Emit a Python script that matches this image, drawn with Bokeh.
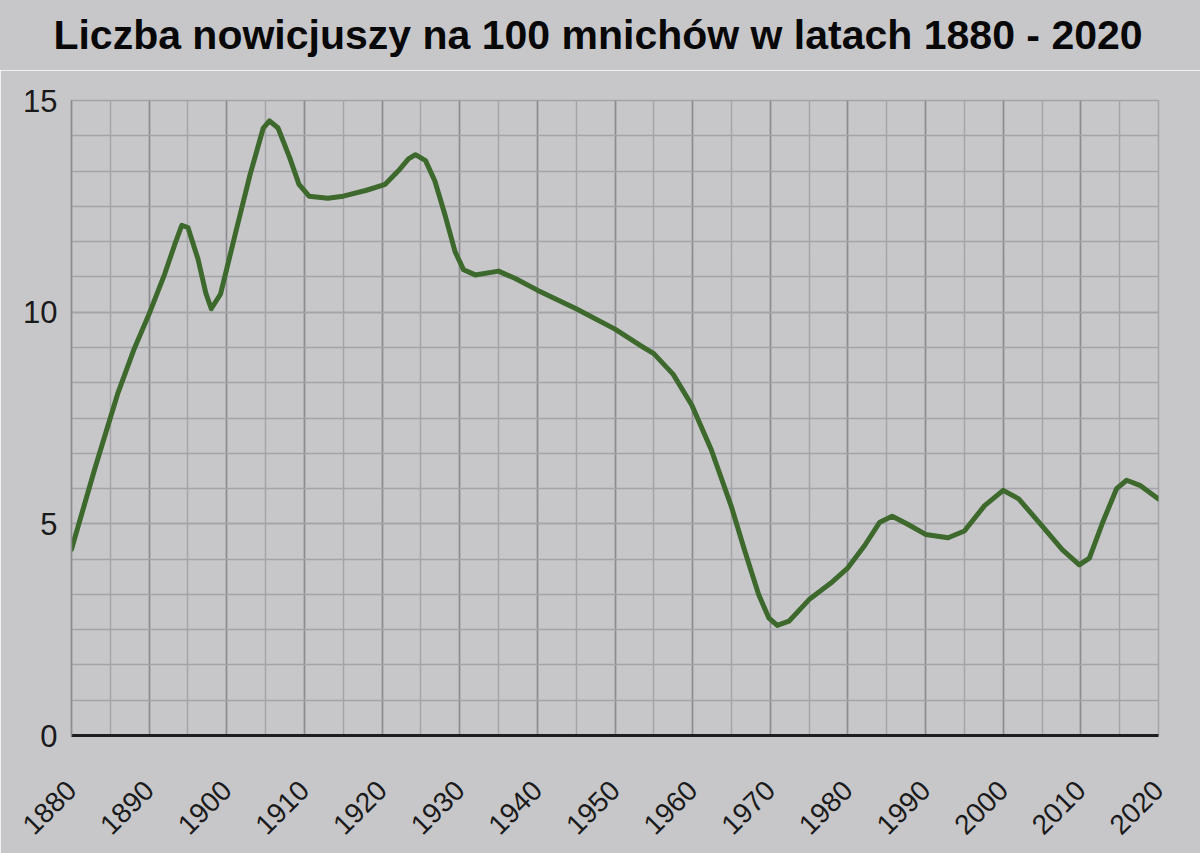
from math import pi

from bokeh.embed import file_html
from bokeh.layouts import column
from bokeh.models import ColumnDataSource, Div, SingleIntervalTicker
from bokeh.plotting import figure
from bokeh.resources import INLINE

# values
years = [1880, 1883, 1886, 1888, 1890, 1892, 1893.3, 1894.2, 1895.0, 1896.3, 1897.3, 1898,
         1899.2, 1901.3, 1903, 1904.7, 1905.5, 1906.6, 1908.1, 1909.3, 1910.6, 1913,
         1915, 1918, 1920.4, 1922.1, 1923.4, 1924.3, 1925.6, 1926.8, 1928.1, 1929.4, 1930.5,
         1932, 1935, 1937.1, 1940, 1945, 1950, 1953.4, 1955, 1957.5, 1959.9,
         1962.4, 1965, 1966.7, 1968.5, 1969.8, 1970.9, 1972.4, 1975, 1977.8, 1980,
         1982.2, 1984.1, 1985.7, 1987.7, 1990, 1992.9, 1995, 1997.6, 2000, 2002,
         2005, 2007.6, 2009.8, 2011.1, 2012.8, 2014.6, 2015.9, 2017.6, 2020]
novices = [4.4, 6.3, 8.1, 9.1, 9.96, 10.9, 11.6, 12.05, 12.0, 11.25, 10.45, 10.08,
           10.43, 12.0, 13.25, 14.35, 14.52, 14.35, 13.65, 13.02, 12.74, 12.69,
           12.74, 12.88, 13.02, 13.34, 13.62, 13.72, 13.58, 13.1, 12.3, 11.43, 11.0,
           10.88, 10.97, 10.8, 10.52, 10.08, 9.6, 9.2, 9.02, 8.53, 7.8,
           6.75, 5.4, 4.37, 3.33, 2.78, 2.6, 2.7, 3.21, 3.6, 3.96,
           4.5, 5.04, 5.18, 4.99, 4.75, 4.67, 4.83, 5.43, 5.79, 5.59,
           4.95, 4.39, 4.03, 4.19, 5.03, 5.83, 6.03, 5.91, 5.59]

title_text = "Liczba nowicjuszy na 100 mnichów w latach 1880 - 2020"

bg = "#c7c7ca"
grid_dark = "#8c8c90"
grid_light = "#a4a4a8"

# title as its own strip above the plot, so its height does not push the frame
header = Div(
    text=title_text,
    width=1200,
    height=70,
    margin=(0, 0, 0, 0),
    styles={
        "background-color": bg,
        "color": "#080808",
        "font-family": "Liberation Sans",
        "font-size": "41px",
        "font-weight": "bold",
        "line-height": "70px",
        "text-align": "center",
        "width": "1200px",
        "padding-right": "4px",
        "box-sizing": "border-box",
    },
)

p = figure(
    width=1200,
    height=783,
    x_range=(1880, 2020),
    y_range=(0, 15),
    output_backend="svg",
    toolbar_location=None,
    margin=(0, 0, 0, 0),
    min_border_left=71,
    min_border_right=42,
    min_border_top=30,
    min_border_bottom=118,
)
p.background_fill_color = bg
p.border_fill_color = bg
p.outline_line_color = grid_light
p.outline_line_width = 1.5

p.xaxis.ticker = SingleIntervalTicker(interval=10, num_minor_ticks=2)
p.yaxis.ticker = SingleIntervalTicker(interval=5, num_minor_ticks=6)

for ax in (p.xaxis, p.yaxis):
    ax.major_tick_line_color = None
    ax.minor_tick_line_color = None
    ax.major_label_text_font = "Liberation Sans"
    ax.major_label_text_color = "#1a1a1a"

p.yaxis.major_label_text_font_size = "31px"
p.yaxis.major_label_standoff = 8
p.yaxis.axis_line_color = grid_dark
p.yaxis.axis_line_width = 1.5

p.xaxis.major_label_text_font_size = "28px"
p.xaxis.major_label_orientation = pi / 4
p.xaxis.major_label_standoff = 44
p.xaxis.axis_line_color = "#1e1e1e"
p.xaxis.axis_line_width = 3

p.xgrid.grid_line_color = grid_dark
p.xgrid.grid_line_width = 1.5
p.xgrid.minor_grid_line_color = grid_light
p.xgrid.minor_grid_line_width = 1.5
p.ygrid.grid_line_color = grid_light
p.ygrid.grid_line_width = 1.5
p.ygrid.minor_grid_line_color = grid_light
p.ygrid.minor_grid_line_width = 1.5

source = ColumnDataSource(data={"year": years, "novices": novices})
p.line(x="year", y="novices", source=source, line_width=5,
       line_color="#3d692d", line_join="round", line_cap="round")

page = column(header, p, spacing=0, margin=(0, 0, 0, 0))

open("out.html", "w").write(file_html(page, INLINE))
